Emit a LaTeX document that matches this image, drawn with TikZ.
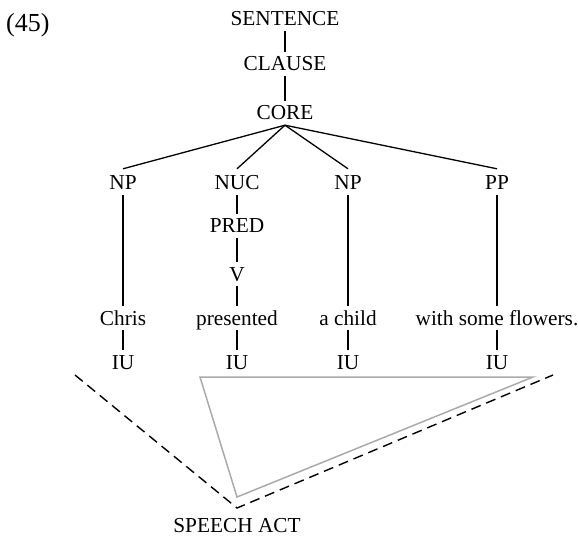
\documentclass[tikz,border=0pt]{standalone}
\usepackage{fontspec}
\setmainfont{Liberation Serif}
\definecolor{trigray}{RGB}{170,170,170}
\begin{document}
\begin{tikzpicture}[x=1pt,y=-1pt,
  lbl/.style={anchor=base, inner xsep=0pt, inner ysep=5pt,
    text height=14pt, text depth=0pt, font=\fontsize{21.3}{25}\selectfont},
  branch/.style={line width=1.3pt, line cap=butt},
  dashline/.style={line width=1.4pt, dash pattern=on 10pt off 6pt},
  grayline/.style={line width=1.5pt, draw=trigray, line join=miter}]
\useasboundingbox (0,0) rectangle (578,537);

% example number
\node[anchor=base west, inner sep=0pt, font=\fontsize{26}{30}\selectfont] (num) at (6,32) {(45)};

% upper spine
\node[lbl] (sent)   at (285,26)  {SENTENCE};
\node[lbl] (clause) at (285,71)  {CLAUSE};
\node[lbl] (core)   at (285,120) {CORE};

% core arguments
\node[lbl] (np1) at (123,190) {NP};
\node[lbl] (nuc) at (237,190) {NUC};
\node[lbl] (np2) at (348,190) {NP};
\node[lbl] (pp)  at (497,190) {PP};

\node[lbl] (pred) at (237,233) {PRED};
\node[lbl] (v)    at (237,281) {V};

% words
\node[lbl] (w1) at (123,325) {Chris};
\node[lbl] (w2) at (237,325) {presented};
\node[lbl] (w3) at (348,325) {a child};
\node[lbl] (w4) at (497,325) {with some flowers.};

% intonation units
\node[lbl] (iu1) at (123,369) {IU};
\node[lbl] (iu2) at (237,369) {IU};
\node[lbl] (iu3) at (348,369) {IU};
\node[lbl] (iu4) at (497,369) {IU};

\node[lbl] (sa) at (237,532) {SPEECH ACT};

% tree branches
\draw[branch] (sent.south) -- (clause.north);
\draw[branch] (clause.south) -- (core.north);
\draw[branch] (core.south) -- ([yshift=2pt]np1.north);
\draw[branch] (core.south) -- ([yshift=2pt]nuc.north);
\draw[branch] (core.south) -- ([yshift=2pt]np2.north);
\draw[branch] (core.south) -- ([yshift=2pt]pp.north);
\draw[branch] (np1.south) -- (w1.north);
\draw[branch] (nuc.south) -- (pred.north);
\draw[branch] (pred.south) -- (v.north);
\draw[branch] (v.south) -- (w2.north);
\draw[branch] (np2.south) -- (w3.north);
\draw[branch] (pp.south) -- (w4.north);
\foreach \i in {1,2,3,4}
  \draw[branch] (w\i.south) -- (iu\i.north);

% speech act projection
\coordinate (dl) at (75,375);
\coordinate (dr) at (553,375);
\coordinate (dapex) at (237,508);
\draw[dashline] (dl) -- (dapex) -- (dr);

\coordinate (ta) at (200,377);
\coordinate (tb) at (533,377);
\coordinate (tc) at (237,497);
\draw[grayline] (ta) -- (tb) -- (tc) -- cycle;
\end{tikzpicture}
\end{document}
